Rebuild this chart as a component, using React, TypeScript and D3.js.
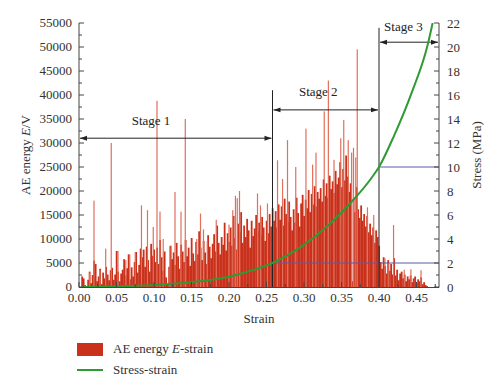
import React, { useEffect } from 'react';
import * as d3 from 'd3';

// AE energy, dense bars: one value every 0.002 strain, starting at 0.002
const aeStart = 0.002;
const aeStep = 0.002;
const aeEnergy = [
  0, 2200, 1800, 400, 0, 1500, 3200, 800, 2500, 5500,
  4800, 1200, 2200, 3800, 600, 3000, 1800, 4200, 2600, 1400,
  3500, 4000, 1500, 2600, 7500, 3200, 1200, 2800, 3600, 5800,
  2400, 3900, 6800, 1600, 4100, 2200, 5200, 7300, 3000, 4600,
  8000, 6200, 7800, 4200, 8400, 5600, 3200, 9000, 6500, 7800,
  5200, 8200, 4800, 9800, 6200, 3400, 7400, 2000, 600, 4200,
  8600, 5800, 7200, 4600, 9200, 6400, 3800, 8800, 7400, 5200,
  9800, 6400, 8200, 4400, 10200, 7000, 5400, 9400, 6800, 11600,
  8200, 5600, 9600, 7200, 4800, 10800, 8400, 6000, 9000, 11000,
  7400, 12800, 9200, 6800, 10400, 8800, 13400, 7600, 11200, 9400,
  12400, 8600, 14800, 10200, 7800, 13200, 11400, 15600, 9200, 12800,
  10400, 14200, 11800, 8200, 13800, 10600, 12200, 15000, 11600, 13400,
  10800, 14600, 12400, 9600, 13800, 11200, 15200, 12600, 16400, 13800,
  15800, 12400, 17200, 14000, 16800, 12800, 18400, 15200, 13600, 17800,
  14600, 11800, 16200, 13400, 18600, 15400, 12600, 17400, 19200, 14800,
  18200, 16400, 20200, 15600, 19400, 17200, 21000, 16800, 19800, 18400,
  20600, 17800, 22400, 19000, 21600, 18600, 23200, 20400, 22000, 19600,
  24200, 21400, 22800, 26000, 20800, 24600, 22200, 27400, 23000, 19800,
  21600, 1200, 18400, 15600, 20800, 16200, 14400, 17000, 13800, 15200,
  12600, 14800, 11400, 13200, 10800, 12400, 9200, 11800, 10400, 8600,
  5200, 3800, 6200, 4400, 2800, 5600, 3400, 4800, 2600, 6000,
  2400, 3600, 1400, 2800, 3200, 1800, 2600, 1200, 2200, 1600,
  2400, 1000, 1800, 2200, 800, 1600, 1200, 2000, 600, 1000,
  400, 200,
];

// thin tall AE spikes
const spikeStrain = [
  0.014, 0.020, 0.028, 0.0356, 0.043, 0.052, 0.0624, 0.0677, 0.075, 0.0833,
  0.0913, 0.099, 0.104, 0.108, 0.1123, 0.1212, 0.128, 0.136, 0.1417, 0.157,
  0.162, 0.166, 0.171, 0.183, 0.2, 0.205, 0.2086, 0.211, 0.214, 0.238,
  0.242, 0.2513, 0.2647, 0.2714, 0.278, 0.289, 0.3026, 0.3115, 0.316, 0.327,
  0.3325, 0.340, 0.349, 0.353, 0.359, 0.3635, 0.366, 0.369, 0.371, 0.3846,
  0.393, 0.408, 0.413, 0.4194, 0.4337, 0.4425, 0.456,
];
const spikeEnergy = [
  3000, 18000, 3500, 8000, 30000, 7500, 5600, 6800, 7300, 17000,
  16000, 12500, 38800, 15700, 10000, 8500, 19800, 15700, 35000, 10000,
  15300, 12000, 9500, 14000, 13000, 16000, 19000, 18500, 20000, 19500,
  17000, 17400, 26400, 22500, 30600, 25000, 33000, 25500, 28000, 36600,
  43000, 26500, 31000, 34800, 30600, 28000, 29000, 27000, 49500, 16600,
  15000, 6000, 5000, 12900, 3600, 3700, 3500,
];

// stress-strain curve
const stressStrain = [0.004, 0.05, 0.10, 0.15, 0.20, 0.228, 0.258, 0.295, 0.335, 0.362, 0.389, 0.40, 0.42, 0.443, 0.465, 0.4715];
const stressValue = [0, 0.05, 0.17, 0.4, 0.86, 1.33, 2.0, 3.3, 5.3, 7.0, 9.0, 10.0, 12.6, 16.1, 20.2, 22.0];

const xTicks = [0, 0.05, 0.1, 0.15, 0.2, 0.25, 0.3, 0.35, 0.4, 0.45];
const yLeftTicks = [0, 5000, 10000, 15000, 20000, 25000, 30000, 35000, 40000, 45000, 50000, 55000];
const yRightTicks = [0, 2, 4, 6, 8, 10, 12, 14, 16, 18, 20, 22];

// stage boundaries (strain) and arrow heights
const stageBounds = [0, 0.258, 0.40, 0.48];
const stageArrowAE = [31000, 36900, 51000];
const stageLineTopAE = [0, 41000, 54000];
const stageNames = ['Stage 1', 'Stage 2', 'Stage 3'];
const stageLabelX = [0.096, 0.319, 0.4325];
const stageLabelAE = [33800, 39700, 53300];

const W = 500, H = 392;
const m = { left: 79, right: 439, top: 23, bottom: 287 };
const font = '"Liberation Serif", "DejaVu Serif", serif';
const barColor = '#c9311b';
const spikeColor = '#e0705c';
const green = '#2f9a32';
const blue = '#5d5aa8';
const axisColor = '#444';

export default function App() {
  useEffect(() => { document.body.style.margin = '0'; }, []);

  const x = d3.scaleLinear().domain([0, 0.48]).range([m.left, m.right]);
  const yL = d3.scaleLinear().domain([0, 55000]).range([m.bottom, m.top]);
  const yR = d3.scaleLinear().domain([0, 22]).range([m.bottom, m.top]);
  const bw = x(aeStep) - x(0);

  const line = d3.line<number>()
    .x((_, i) => x(stressStrain[i]))
    .y(d => yR(d))
    .curve(d3.curveMonotoneX);

  const xMinor = d3.range(0.025, 0.48, 0.05);
  const yLMinor = d3.range(2500, 55000, 5000);
  const yRMinor = d3.range(1, 22, 2);

  return (
    <svg width={W} height={H} style={{ display: 'block', background: '#fff' }} fontFamily={font}>
      <defs>
        <marker id="arr" viewBox="0 0 10 10" refX="10" refY="5" markerWidth="9" markerHeight="7"
          orient="auto-start-reverse" markerUnits="userSpaceOnUse">
          <path d="M0,1.5 L10,5 L0,8.5 z" fill="#222" />
        </marker>
        <clipPath id="plot">
          <rect x={m.left} y={m.top} width={m.right - m.left} height={m.bottom - m.top} />
        </clipPath>
      </defs>

      {/* AE bars */}
      <g>
        {aeEnergy.map((v, i) => {
          const s = aeStart + i * aeStep;
          return v > 0 ? (
            <rect key={i} x={x(s) - bw / 2} width={bw + 0.3} y={yL(v)} height={m.bottom - yL(v)} fill={barColor} />
          ) : null;
        })}
        {spikeStrain.map((s, i) => (
          <rect key={'s' + i} x={x(s) - 0.6} width={1.2} y={yL(spikeEnergy[i])}
            height={m.bottom - yL(spikeEnergy[i])} fill={spikeColor} />
        ))}
      </g>

      {/* stress reference lines */}
      <line x1={x(stageBounds[1])} x2={m.right} y1={yR(2)} y2={yR(2)} stroke={blue} strokeWidth={1.2} />
      <line x1={x(stageBounds[2])} x2={m.right} y1={yR(10)} y2={yR(10)} stroke={blue} strokeWidth={1.2} />

      {/* stage lines and arrows */}
      {[1, 2].map(k => (
        <line key={'v' + k} x1={x(stageBounds[k])} x2={x(stageBounds[k])} y1={m.bottom} y2={yL(stageLineTopAE[k])}
          stroke="#222" strokeWidth={1} />
      ))}
      {stageNames.map((name, k) => (
        <g key={name}>
          <line x1={x(stageBounds[k]) + 1} x2={x(stageBounds[k + 1]) - 1} y1={yL(stageArrowAE[k])} y2={yL(stageArrowAE[k])}
            stroke="#222" strokeWidth={1} markerStart="url(#arr)" markerEnd="url(#arr)" />
          <text x={x(stageLabelX[k])} y={yL(stageLabelAE[k])} textAnchor="middle" fontSize={13} fill="#222">{name}</text>
        </g>
      ))}

      {/* stress-strain curve */}
      <path d={line(stressValue) || ''} fill="none" stroke={green} strokeWidth={2} clipPath="url(#plot)" />

      {/* axes */}
      <g stroke={axisColor} strokeWidth={1}>
        <line x1={m.left} x2={m.right} y1={m.bottom + 0.5} y2={m.bottom + 0.5} />
        <line x1={m.left} x2={m.left} y1={m.top} y2={m.bottom + 0.5} />
        <line x1={m.right} x2={m.right} y1={m.top} y2={m.bottom + 0.5} />
        {xTicks.map(t => <line key={'xt' + t} x1={x(t)} x2={x(t)} y1={m.bottom} y2={m.bottom - 5} />)}
        {xMinor.map(t => <line key={'xm' + t} x1={x(t)} x2={x(t)} y1={m.bottom} y2={m.bottom - 3} />)}
        {yLeftTicks.map(t => <line key={'yl' + t} x1={m.left} x2={m.left + 5} y1={yL(t)} y2={yL(t)} />)}
        {yLMinor.map(t => <line key={'ylm' + t} x1={m.left} x2={m.left + 3} y1={yL(t)} y2={yL(t)} />)}
        {yRightTicks.map(t => <line key={'yr' + t} x1={m.right} x2={m.right - 5} y1={yR(t)} y2={yR(t)} />)}
        {yRMinor.map(t => <line key={'yrm' + t} x1={m.right} x2={m.right - 3} y1={yR(t)} y2={yR(t)} />)}
      </g>

      <g fontSize={13} fill="#333">
        {xTicks.map(t => (
          <text key={'xl' + t} x={x(t)} y={m.bottom + 15} textAnchor="middle">{d3.format('.2f')(t)}</text>
        ))}
        {yLeftTicks.map(t => (
          <text key={'yll' + t} x={m.left - 7} y={yL(t)} dy="0.32em" textAnchor="end">{t}</text>
        ))}
        {yRightTicks.map(t => (
          <text key={'yrl' + t} x={m.right + 8} y={yR(t)} dy="0.35em" textAnchor="start">{t}</text>
        ))}
        <text x={(m.left + m.right) / 2} y={323} textAnchor="middle">Strain</text>
        <text transform={`translate(30,${(m.top + m.bottom) / 2}) rotate(-90)`} textAnchor="middle">
          AE energy <tspan fontStyle="italic">E</tspan>/V
        </text>
        <text transform={`translate(481,${(m.top + m.bottom) / 2}) rotate(-90)`} textAnchor="middle">Stress (MPa)</text>
      </g>

      {/* legend */}
      <g fontSize={13} fill="#333">
        <rect x={77} y={343} width={26} height={13} fill={barColor} />
        <text x={113} y={353}>AE energy <tspan fontStyle="italic">E</tspan>-strain</text>
        <line x1={77} x2={103} y1={370} y2={370} stroke={green} strokeWidth={2} />
        <text x={113} y={374}>Stress-strain</text>
      </g>
    </svg>
  );
}
